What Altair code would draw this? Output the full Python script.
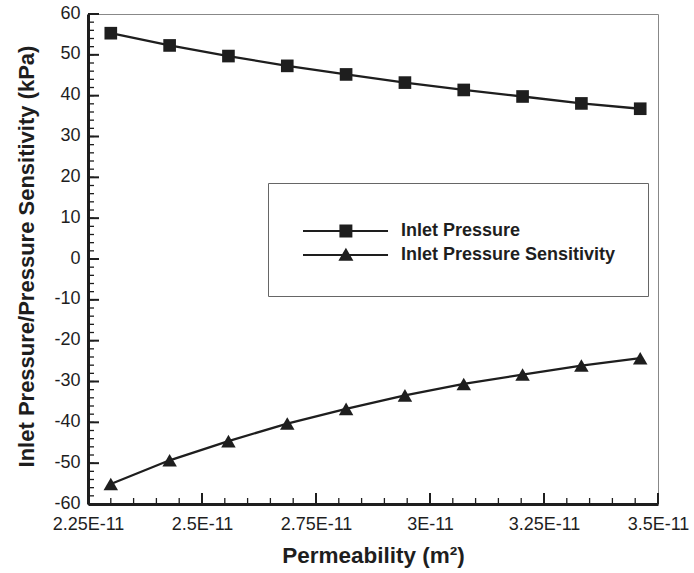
import altair as alt
import pandas as pd

# ---- data ----
permeability = [2.300e-11, 2.429e-11, 2.558e-11, 2.687e-11, 2.816e-11,
                2.945e-11, 3.074e-11, 3.203e-11, 3.332e-11, 3.461e-11]
inlet_pressure = [55.3, 52.3, 49.7, 47.3, 45.2, 43.2, 41.4, 39.8, 38.1, 36.8]
inlet_sensitivity = [-55.1, -49.3, -44.6, -40.3, -36.7, -33.4, -30.6, -28.3, -26.1, -24.3]
series_names = ["Inlet Pressure", "Inlet Pressure Sensitivity"]

x_major = [2.25e-11, 2.5e-11, 2.75e-11, 3.0e-11, 3.25e-11, 3.5e-11]
y_major = [-60, -50, -40, -30, -20, -10, 0, 10, 20, 30, 40, 50, 60]
x_minor = [round(2.25 + 0.05 * i, 2) * 1e-11 for i in range(26)]
y_minor = [-60 + 2 * i for i in range(61)]

# ---- tables ----
df = pd.DataFrame({
    "x": permeability * 2,
    "value": inlet_pressure + inlet_sensitivity,
    "series": [series_names[0]] * len(permeability) + [series_names[1]] * len(permeability),
})
xmaj = pd.DataFrame({"x": x_major})
xmin = pd.DataFrame({"x": x_minor})
ymaj = pd.DataFrame({"value": y_major})
ymin = pd.DataFrame({"value": y_minor})

W, H = 570, 490
INK = "#1e1e1e"
FONT = "Liberation Sans"

xscale = alt.Scale(domain=[2.25e-11, 3.5e-11], nice=False, zero=False)
yscale = alt.Scale(domain=[-60, 60], nice=False, zero=False)

x_axis = alt.Axis(
    values=x_major, ticks=False, grid=False,
    labelExpr="format(datum.value*1e11, '.3~g') + 'E-11'",
    labelFlush=False, labelOverlap=False, labelPadding=11,
    labelFontSize=18, labelColor=INK, labelFont=FONT,
    domainColor=INK, domainWidth=3,
    title="Permeability (m²)", titleFontSize=22.5, titleFont=FONT, titleFontWeight="bold",
    titleColor=INK, titleBaseline="alphabetic", titleY=58,
)
y_axis = alt.Axis(
    values=y_major, ticks=False, grid=False,
    labelExpr="(datum.value < 0 ? '-' : '') + abs(datum.value)",
    labelPadding=8, labelOverlap=False, labelOffset=-1,
    labelFontSize=18, labelColor=INK, labelFont=FONT,
    domainColor=INK, domainWidth=3,
    title="Inlet Pressure/Pressure Sensitivity (kPa)", titleFontSize=22, titleFont=FONT,
    titleFontWeight="bold", titleColor=INK, titleBaseline="alphabetic",
    titleX=-55, titleY=242, titleAngle=270,
)

X = alt.X("x:Q", scale=xscale, axis=x_axis)
Y = alt.Y("value:Q", scale=yscale, axis=y_axis)

base = alt.Chart(df)

lines = base.mark_line(color=INK, strokeWidth=2.3).encode(
    x=X, y=Y, detail="series:N",
)

points = base.mark_point(filled=True, color=INK, opacity=1).encode(
    x=X, y=Y,
    shape=alt.Shape("series:N", scale=alt.Scale(domain=series_names, range=["square", "triangle-up"]), legend=None),
    size=alt.Size("series:N", scale=alt.Scale(domain=series_names, range=[160, 210]), legend=None),
)

legend_paths = [
    "M-1,-0.18H13.17V0.18H-1Z M5.07,-1.08H7.23V1.08H5.07Z",
    "M-1,-0.18H13.17V0.18H-1Z M6.15,-1.2L7.4,0.95H4.9Z",
]
legend_layer = base.mark_point(filled=True, color=INK, opacity=0).encode(
    x=X, y=Y,
    shape=alt.Shape(
        "series:N",
        scale=alt.Scale(domain=series_names, range=legend_paths),
        legend=alt.Legend(
            title=" ", titleFontSize=5, titlePadding=2,
            orient="none", legendX=180, legendY=169,
            padding=32, strokeColor="#666666", fillColor="white",
            labelFontSize=18, labelFont=FONT, labelFontWeight="bold", labelColor=INK,
            labelLimit=0,
            symbolSize=144, symbolFillColor=INK, symbolStrokeWidth=0, symbolOpacity=1,
            labelOffset=83, rowPadding=6,
        ),
    ),
)

xmaj_r = alt.Chart(xmaj).mark_rule(color=INK, strokeWidth=2).encode(
    x=X, y=alt.value(H), y2=alt.value(H - 11))
xmin_r = alt.Chart(xmin).mark_rule(color=INK, strokeWidth=1.3).encode(
    x=X, y=alt.value(H), y2=alt.value(H - 6))
ymaj_r = alt.Chart(ymaj).mark_rule(color=INK, strokeWidth=2).encode(
    y=Y, x=alt.value(0), x2=alt.value(11))
ymin_r = alt.Chart(ymin).mark_rule(color=INK, strokeWidth=1.3).encode(
    y=Y, x=alt.value(0), x2=alt.value(6))

chart = alt.layer(
    xmin_r, xmaj_r, ymin_r, ymaj_r, lines, points, legend_layer
).resolve_scale(shape="independent").properties(
    width=W, height=H,
    autosize=alt.AutoSizeParams(type="none"),
    padding={"left": 88, "top": 14, "right": 36, "bottom": 69},
    background="white",
).configure_view(stroke="#888888", strokeWidth=1)

chart.save("out.html", embed_options={"renderer": "svg", "actions": False})
